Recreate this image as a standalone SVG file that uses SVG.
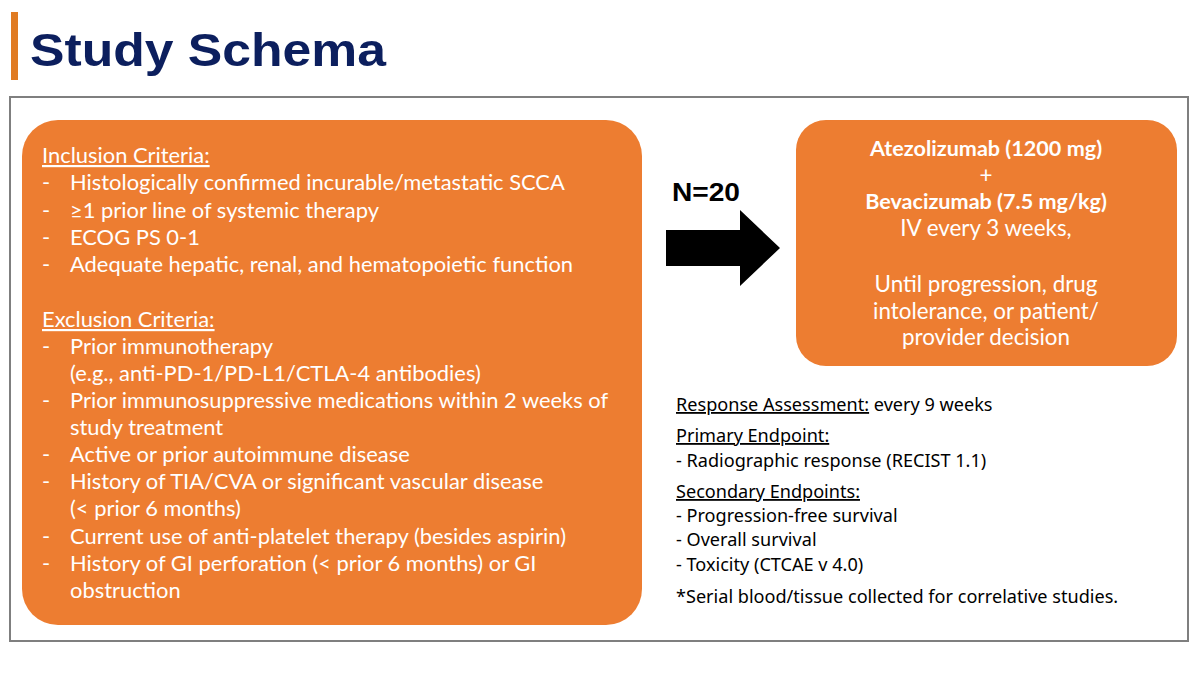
<svg xmlns="http://www.w3.org/2000/svg" width="1200" height="675" viewBox="0 0 1200 675">
<style>
.title{font-family:"Liberation Sans",Arial,sans-serif;font-weight:bold;font-size:46px;fill:#0c1f5e}
.lt{font-family:Lato,"Noto Sans",sans-serif;font-size:21.9px;fill:#fff}
.ct{font-family:Lato,"Noto Sans",sans-serif;font-size:22.4px;fill:#fff;text-anchor:middle}
.b{font-weight:bold;font-size:21.6px}
.bt{font-family:"Noto Sans",sans-serif;font-size:18.1px;fill:#000}
.u{text-decoration:underline}
.box{fill:#ed7d31}
</style>
<rect x="0" y="0" width="1200" height="675" fill="#fff"/>
<rect x="11" y="12" width="7" height="68" fill="#e07b22"/>
<text class="title" x="30" y="66" textLength="356" lengthAdjust="spacingAndGlyphs">Study Schema</text>
<rect x="10" y="97" width="1178" height="544" fill="none" stroke="#7f7f7f" stroke-width="2"/>
<g id="criteria">
<rect class="box" x="22" y="120" width="620" height="505" rx="36"/>
<text class="lt u" x="42" y="163">Inclusion Criteria:</text>
<text class="lt" x="42" y="190">-</text><text class="lt" x="70" y="190">Histologically confirmed incurable/metastatic SCCA</text>
<text class="lt" x="42" y="218">-</text><text class="lt" x="70" y="218">≥1 prior line of systemic therapy</text>
<text class="lt" x="42" y="245">-</text><text class="lt" x="70" y="245">ECOG PS 0-1</text>
<text class="lt" x="42" y="272">-</text><text class="lt" x="70" y="272">Adequate hepatic, renal, and hematopoietic function</text>
<text class="lt u" x="42" y="327">Exclusion Criteria:</text>
<text class="lt" x="42" y="354">-</text><text class="lt" x="70" y="354">Prior immunotherapy</text>
<text class="lt" x="70" y="381">(e.g., anti-PD-1/PD-L1/CTLA-4 antibodies)</text>
<text class="lt" x="42" y="408">-</text><text class="lt" x="70" y="408">Prior immunosuppressive medications within 2 weeks of</text>
<text class="lt" x="70" y="435">study treatment</text>
<text class="lt" x="42" y="462">-</text><text class="lt" x="70" y="462">Active or prior autoimmune disease</text>
<text class="lt" x="42" y="489">-</text><text class="lt" x="70" y="489">History of TIA/CVA or significant vascular disease</text>
<text class="lt" x="70" y="516">(&lt; prior 6 months)</text>
<text class="lt" x="42" y="544">-</text><text class="lt" x="70" y="544">Current use of anti-platelet therapy (besides aspirin)</text>
<text class="lt" x="42" y="571">-</text><text class="lt" x="70" y="571">History of GI perforation (&lt; prior 6 months) or GI</text>
<text class="lt" x="70" y="598">obstruction</text>
</g>
<g id="connectors">
<polygon points="666,230 740,230 740,210 780,248 740,286 740,266 666,266" fill="#000"/>
<text x="672" y="201" font-family="Liberation Sans,Arial,sans-serif" font-weight="bold" font-size="25" fill="#000" textLength="68" lengthAdjust="spacingAndGlyphs">N=20</text>
</g>
<g id="treatment">
<rect class="box" x="796" y="120" width="381" height="246" rx="30"/>
<text class="ct b" x="986" y="156">Atezolizumab (1200 mg)</text>
<text class="ct" x="986" y="183" font-size="26">+</text>
<text class="ct b" x="986" y="209">Bevacizumab (7.5 mg/kg)</text>
<text class="ct" x="986" y="236">IV every 3 weeks,</text>
<text class="ct" x="986" y="292">Until progression, drug</text>
<text class="ct" x="986" y="319">intolerance, or patient/</text>
<text class="ct" x="986" y="345">provider decision</text>
</g>
<g id="endpoints">
<text class="bt" x="676" y="411"><tspan class="u">Response Assessment:</tspan> every 9 weeks</text>
<text class="bt u" x="676" y="442">Primary Endpoint:</text>
<text class="bt" x="676" y="467">- Radiographic response (RECIST 1.1)</text>
<text class="bt u" x="676" y="498">Secondary Endpoints:</text>
<text class="bt" x="676" y="522">- Progression-free survival</text>
<text class="bt" x="676" y="546">- Overall survival</text>
<text class="bt" x="676" y="571">- Toxicity (CTCAE v 4.0)</text>
<text class="bt" x="676" y="603">*Serial blood/tissue collected for correlative studies.</text>
</g>
</svg>
